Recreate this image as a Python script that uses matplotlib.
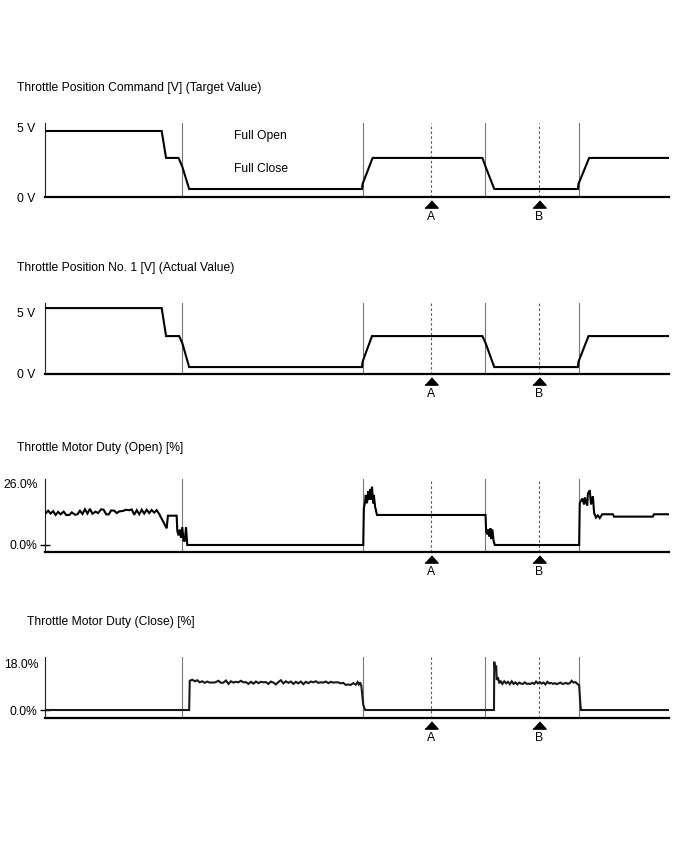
import matplotlib
matplotlib.use("Agg")
import matplotlib.pyplot as plt
from matplotlib.transforms import ScaledTranslation

plt.rcParams['font.family'] = ['Liberation Sans', 'DejaVu Sans']

# ---------------- data ----------------
TITLES = [
    "Throttle Position Command [V] (Target Value)",
    "Throttle Position No. 1 [V] (Actual Value)",
    "Throttle Motor Duty (Open) [%]",
    "Throttle Motor Duty (Close) [%]",
]
TICK_LABELS = [["0 V", "5 V"], ["0 V", "5 V"], ["0.0%", "26.0%"], ["0.0%", "18.0%"]]
TICK_VALUES = [[0, 5], [0, 5], [0, 26], [0, 18]]

# event lines (time, arbitrary units 0..100)
event_lines = [21.9, 50.9, 70.5, 85.5]
marker_names = ["A", "B"]
marker_times = [61.9, 79.1]

# Panel 1: target throttle position [V]
target_t = [0, 18.7, 19.4, 21.4, 22.0, 23.1, 50.8, 50.9, 52.5, 70.1, 70.6, 72.0, 85.4, 85.5, 87.2, 100]
target_v = [4.78, 4.78, 2.83, 2.83, 2.2, 0.58, 0.58, 0.95, 2.83, 2.83, 2.2, 0.58, 0.58, 0.95, 2.83, 2.83]

# Panel 2: actual throttle position [V]
actual_t = [0, 18.7, 19.4, 21.5, 22.0, 23.1, 50.8, 50.9, 52.4, 70.1, 70.6, 72.0, 85.4, 85.5, 87.1, 100]
actual_v = [5.32, 5.32, 3.06, 3.06, 2.5, 0.56, 0.56, 1.0, 3.06, 3.06, 2.5, 0.56, 0.56, 1.0, 3.06, 3.06]

# Panel 3: throttle motor duty (open) [%]
open_t = [0.0, 0.5, 0.9, 1.3, 1.7, 2.1, 2.5, 3.0, 3.4, 3.9, 4.3, 4.8, 5.2, 5.6, 6.0, 6.4, 6.8,
          7.2, 7.6, 8.1, 8.5, 9.0, 9.4, 9.8, 10.2, 10.6, 11.1, 11.5, 11.9, 12.5, 13.0, 13.5,
          13.9, 14.3, 14.7, 15.1, 15.5, 15.9, 16.3, 16.7, 17.1, 17.5, 17.9, 18.3, 18.7, 19.1,
          19.5, 19.7, 21.1, 21.2, 21.4, 21.6, 21.8, 22.0, 22.2, 22.4, 22.6, 22.8,
          51.0, 51.1, 51.3, 51.4, 51.6, 51.8, 51.9, 52.1, 52.2, 52.4, 52.6, 52.7, 52.9, 53.0, 53.2,
          70.6, 70.7, 70.9, 71.0, 71.2, 71.4, 71.5, 71.7, 71.9, 72.1,
          85.6, 85.7, 86.1, 86.4, 86.5, 86.9, 87.0, 87.3, 87.5, 87.8, 88.0, 88.3, 88.6, 88.9,
          89.3, 91.0, 91.2, 97.4, 97.6, 100]
open_v = [13.0, 14.4, 13.2, 14.2, 12.6, 13.9, 12.9, 14.0, 12.6, 12.6, 13.7, 12.7, 12.9, 14.4,
          13.0, 15.0, 13.2, 15.2, 13.1, 14.0, 13.4, 15.0, 14.8, 12.9, 12.8, 14.5, 14.4, 13.4,
          14.1, 14.3, 14.8, 14.6, 14.9, 12.7, 14.6, 12.9, 14.8, 13.2, 14.8, 13.4, 14.7, 13.6,
          14.6, 13.0, 11.0, 9.0, 7.0, 12.3, 12.3, 6.0, 4.0, 6.5, 3.0, 7.5, 2.0, 1.5, 7.5, 0.0,
          0.0, 15.5, 18.0, 21.0, 17.5, 22.5, 19.0, 23.5, 19.0, 24.5, 17.5, 21.0, 16.0, 15.0, 12.6,
          12.6, 5.5, 4.5, 6.5, 3.5, 7.0, 2.5, 6.5, 1.5, 0.0,
          0.0, 17.6, 19.5, 17.0, 20.0, 16.5, 21.5, 23.0, 17.0, 20.5, 13.5, 11.5, 12.4, 11.3,
          12.9, 12.9, 11.9, 11.9, 12.9, 12.9]

# Panel 4: throttle motor duty (close) [%]
close_t = [0, 23.1, 23.2, 23.6, 24.0, 24.4, 24.8, 25.2, 25.6, 26.0, 26.4, 26.8, 27.3, 27.8, 28.2,
           28.6, 29.0, 29.4, 29.8, 30.2, 30.6, 31.0, 31.4, 31.8, 32.2, 32.6, 33.0, 33.4, 33.8,
           34.2, 34.6, 35.0, 35.4, 35.8, 36.2, 36.6, 37.0, 37.4, 37.8, 38.2, 38.6, 39.0, 39.4,
           39.8, 40.2, 40.6, 41.0, 41.4, 41.8, 42.2, 42.6, 43.0, 43.4, 43.8, 44.2, 44.6, 45.0,
           45.4, 45.8, 46.2, 46.6, 47.0, 47.4, 47.8, 48.2, 48.6, 49.0, 49.4, 49.8, 50.1, 50.3,
           50.5, 50.7, 51.0, 51.3,
           71.95, 72.0, 72.15, 72.3, 72.4, 72.6, 72.8, 73.0, 73.3, 73.6, 73.9, 74.2, 74.5, 74.8,
           75.1, 75.4, 75.7, 76.0, 76.3, 76.6, 76.9, 77.2, 77.5, 77.8, 78.1, 78.4, 78.7, 79.0,
           79.3, 79.6, 79.9, 80.2, 80.5, 80.8, 81.1, 81.4, 81.7, 82.0, 82.3, 82.6, 82.9, 83.2,
           83.5, 83.8, 84.1, 84.4, 84.7, 85.0, 85.3, 85.6, 85.8, 85.9, 100]
close_v = [0, 0, 11.2, 11.6, 11.0, 11.4, 10.6, 11.0, 10.4, 10.9, 10.5, 10.5, 10.6, 11.2, 10.4,
           10.5, 11.3, 10.0, 11.0, 10.5, 10.8, 10.6, 11.2, 10.6, 10.7, 10.0, 10.8, 10.1, 10.9,
           10.3, 10.8, 10.6, 10.7, 10.0, 10.9, 10.5, 9.8, 10.7, 11.4, 10.2, 11.0, 10.4, 10.9,
           10.0, 10.8, 10.2, 10.9, 9.9, 10.8, 10.3, 10.9, 10.6, 11.0, 10.4, 10.6, 10.5, 10.9,
           10.3, 10.8, 10.5, 10.6, 10.6, 10.2, 10.4, 9.6, 9.8, 9.6, 10.3, 9.7, 10.7, 9.8,
           10.6, 9.2, 2.0, 0.0,
           0.0, 18.5, 15.5, 17.0, 11.5, 12.5, 10.2, 11.2, 10.0, 11.0, 10.2, 10.8, 9.9, 11.0,
           10.0, 10.6, 9.8, 10.5, 10.1, 10.0, 10.6, 10.0, 10.1, 10.0, 10.4, 10.0, 10.9, 10.2,
           10.7, 10.1, 10.5, 9.8, 10.8, 10.2, 10.4, 10.0, 10.3, 9.9, 10.2, 10.5, 10.0, 10.1,
           10.4, 10.0, 10.3, 11.2, 10.5, 10.7, 10.0, 9.5, 2.0, 0.0, 0.0]

# ---------------- layout (pixel geometry) ----------------
W, H = 688, 852
fig = plt.figure(figsize=(W / 100, H / 100), dpi=100)

AX_LEFT, AX_RIGHT = 45, 669
# (spine bottom px, spine top px, ylim bottom, ylim top, title px y, title px x)
panels = [
    (197, 123, 0.0, 5.36, 88, 17),
    (374, 303, 0.0, 5.73, 268, 17),
    (552, 479, -2.94, 27.7, 448, 17),
    (718, 657, -3.06, 20.3, 622, 27),
]
series = [(target_t, target_v, '#000000'), (actual_t, actual_v, '#000000'),
          (open_t, open_v, '#000000'), (close_t, close_v, '#1a1a1a')]

FS = 8.7
for i, ((bot, top, y0, y1, ty, tx), (tt, vv, col)) in enumerate(zip(panels, series)):
    ax = fig.add_axes([AX_LEFT / W, 1 - bot / H, (AX_RIGHT - AX_LEFT) / W, (bot - top) / H])
    ax.set_xlim(0, 100)
    ax.set_ylim(y0, y1)
    for s in ('top', 'right'):
        ax.spines[s].set_visible(False)
    ax.spines['bottom'].set_linewidth(1.6)
    ax.spines['bottom'].set_color('#000000')
    ax.spines['left'].set_linewidth(0.8)
    ax.spines['left'].set_color('#222222')
    ax.set_xticks([])
    lo_val, hi_val = TICK_VALUES[i]
    lo_lab, hi_lab = TICK_LABELS[i]
    ax.set_yticks([lo_val])
    ax.set_yticklabels([lo_lab], fontsize=FS)
    ax.set_yticks([hi_val], minor=True)
    ax.set_yticklabels([hi_lab], minor=True, fontsize=FS)
    pad = 7 if i < 2 else 5
    ax.tick_params(axis='y', which='minor', length=0, pad=pad)
    if i >= 2:
        ax.tick_params(axis='y', which='major', length=6.5, width=1.0,
                       direction='inout', color='#000000', pad=pad - 3)
    else:
        ax.tick_params(axis='y', which='major', length=0, pad=pad)
    ax.patch.set_alpha(0)

    for x in event_lines:
        ax.axvline(x, color='#777777', lw=0.8, zorder=1)
    for x in marker_times:
        ax.axvline(x, color='#555555', lw=0.8, ls=(0, (2.2, 2.2)), zorder=1)

    ax.plot(tt, vv, color=col, lw=1.5, zorder=3, solid_joinstyle='miter')

    tri = ax.get_xaxis_transform() + ScaledTranslation(0, -6.5 / 100, fig.dpi_scale_trans)
    lab = ax.get_xaxis_transform() + ScaledTranslation(0, -20 / 100, fig.dpi_scale_trans)
    for name, x in zip(marker_names, marker_times):
        ax.plot([x], [0], transform=tri, marker=[(-1, -0.55), (1, -0.55), (0, 0.55)],
                ms=9.5, color='#000000', clip_on=False, zorder=4)
        ax.text(x, 0, name, transform=lab, ha='center', va='center', fontsize=FS)

    fig.text(tx / W, 1 - ty / H, TITLES[i], ha='left', va='center', fontsize=FS)

    if i == 0:
        ax.text(30.3, 4.42, "Full Open", ha='left', va='center', fontsize=FS)
        ax.text(30.3, 2.03, "Full Close", ha='left', va='center', fontsize=FS)

fig.savefig("out.png", dpi=100)
